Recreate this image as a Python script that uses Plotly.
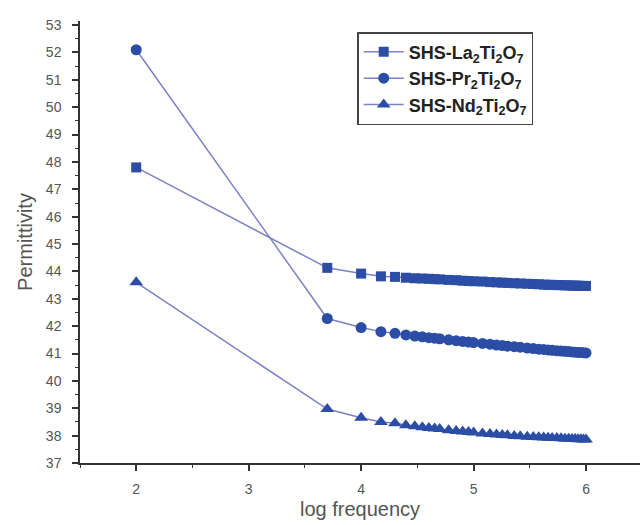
import numpy as np
import plotly.graph_objects as go

# frequency in kHz
freq_khz = [0.1, 5, 10, 15, 20, 25, 30, 35, 40, 45, 50, 60, 70, 80, 90, 100,
            120, 140, 160, 180, 200, 230, 260, 300, 340, 380, 420, 460, 500,
            550, 600, 650, 700, 750, 800, 850, 900, 950, 1000]

la_vals = [47.80, 44.13, 43.92, 43.82, 43.80, 43.77, 43.75, 43.74, 43.73, 43.72,
           43.71, 43.69, 43.68, 43.66, 43.65, 43.64, 43.63, 43.61, 43.60, 43.59,
           43.58, 43.57, 43.56, 43.55, 43.54, 43.53, 43.52, 43.51, 43.51, 43.50,
           43.50, 43.49, 43.49, 43.48, 43.48, 43.48, 43.47, 43.47, 43.47]

pr_vals = [52.10, 42.28, 41.95, 41.80, 41.74, 41.68, 41.64, 41.61, 41.58, 41.56,
           41.54, 41.50, 41.47, 41.44, 41.42, 41.40, 41.37, 41.34, 41.31, 41.29,
           41.27, 41.25, 41.23, 41.20, 41.18, 41.16, 41.15, 41.13, 41.12, 41.10,
           41.09, 41.08, 41.07, 41.06, 41.05, 41.04, 41.04, 41.03, 41.02]

nd_vals = [43.60, 38.97, 38.65, 38.50, 38.45, 38.38, 38.34, 38.31, 38.28, 38.26,
           38.24, 38.20, 38.17, 38.15, 38.13, 38.11, 38.08, 38.06, 38.04, 38.02,
           38.01, 37.99, 37.98, 37.96, 37.95, 37.94, 37.93, 37.92, 37.91, 37.91,
           37.90, 37.89, 37.89, 37.88, 37.88, 37.87, 37.87, 37.86, 37.86]

series_names = ["<b>SHS-La<sub>2</sub>Ti<sub>2</sub>O<sub>7</sub></b>",
                "<b>SHS-Pr<sub>2</sub>Ti<sub>2</sub>O<sub>7</sub></b>",
                "<b>SHS-Nd<sub>2</sub>Ti<sub>2</sub>O<sub>7</sub></b>"]
symbols = ["square", "circle", "triangle-up"]
sizes = [10, 11, 12]

log_f = np.log10(np.array(freq_khz) * 1000.0)

marker_color = "#2b4da6"
line_color = "#7c82c2"

fig = go.Figure()
for name, vals, sym, sz in zip(series_names, [la_vals, pr_vals, nd_vals], symbols, sizes):
    fig.add_trace(go.Scatter(
        x=log_f, y=vals, name=name, mode="lines+markers",
        line=dict(color=line_color, width=1.5),
        marker=dict(symbol=sym, size=sz, color=marker_color, line=dict(width=0)),
    ))

axis_common = dict(
    showline=True, linecolor="#333333", linewidth=1.5,
    ticks="outside", ticklen=6, tickwidth=1.5, tickcolor="#333333",
    showgrid=False, zeroline=False,
    tickfont=dict(family="Liberation Sans, Arial", size=14, color="#555555"),
    minor=dict(ticks="outside", ticklen=3, tickwidth=1, tickcolor="#333333", dtick=0.5),
)

fig.update_xaxes(range=[1.5, 6.48], tickvals=[2, 3, 4, 5, 6], ticklabelstandoff=6,
                 title=dict(text="log frequency", standoff=6,
                            font=dict(family="Liberation Sans, Arial", size=20, color="#555555")),
                 **axis_common)
fig.update_yaxes(range=[37, 53.15], dtick=1, tick0=37, ticklabelstandoff=8,
                 title=dict(text="Permittivity", standoff=8,
                            font=dict(family="Liberation Sans, Arial", size=20, color="#555555")),
                 **axis_common)

fig.update_layout(
    width=640, height=525,
    margin=dict(l=80, r=0, t=21, b=62),
    plot_bgcolor="white", paper_bgcolor="white",
    showlegend=True,
    legend=dict(x=0.495, y=0.975, xanchor="left", yanchor="top",
                bordercolor="#444444", borderwidth=1.5, bgcolor="white",
                font=dict(family="Liberation Sans, Arial", size=18, color="#222222"),
                itemwidth=40),
)

fig.write_html("out.html")
